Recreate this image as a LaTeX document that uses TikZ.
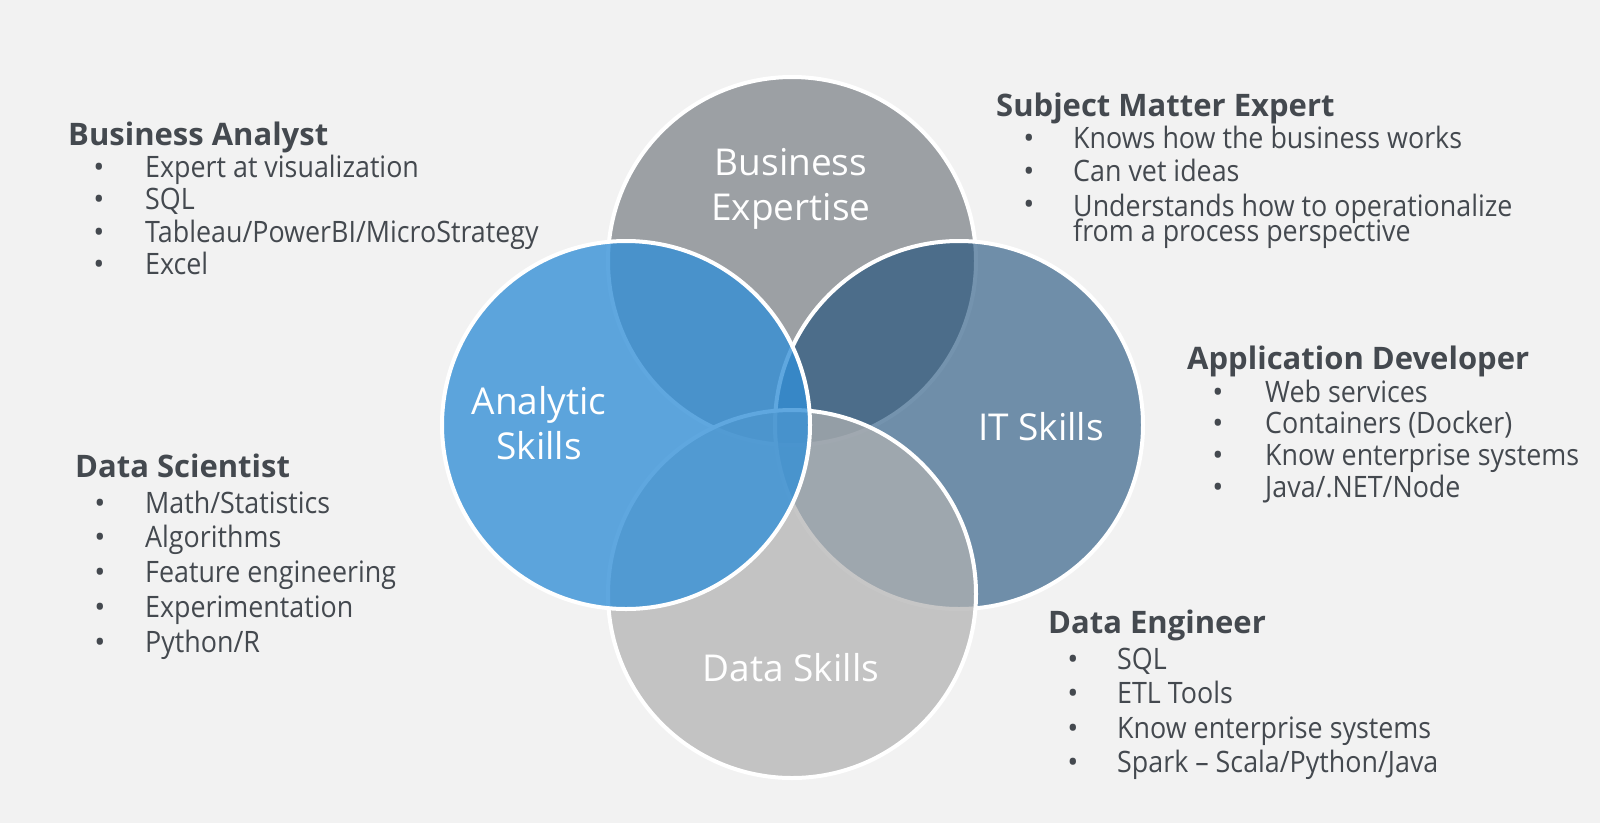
\documentclass[tikz,border=0pt]{standalone}
\usepackage{fontspec}
\setmainfont{Open Sans}
\newfontfamily\narrowfont{Open Sans}[FakeStretch=0.91]
\usepackage{tikz}
\usetikzlibrary{positioning}

\definecolor{bg}{HTML}{F2F2F2}
\definecolor{bizgray}{RGB}{156,160,164}
\definecolor{itblue}{RGB}{24,76,121}
\definecolor{datagray}{RGB}{177,177,177}
\definecolor{anablue}{RGB}{50,143,215}
\definecolor{txtgray}{HTML}{44494F}

\tikzset{
	venn/.style={draw=white, line width=4pt},
	circlab/.style={text=white, align=center, anchor=base, inner sep=0pt, font=\fontsize{37}{45}\selectfont},
	rolehead/.style={anchor=base west, inner sep=0pt, text=txtgray, font=\fontsize{31}{33}\selectfont\bfseries},
	roleitem/.style={anchor=base west, inner sep=0pt, text=txtgray, align=left, font=\narrowfont\fontsize{29.5}{30}\selectfont},
	bulletdot/.style={anchor=base, inner sep=0pt, text=txtgray, font=\fontsize{29.5}{30}\selectfont}
}

\begin{document}
\begin{tikzpicture}[x=1pt, y=-1pt]
	\fill[bg] (0,0) rectangle (1600,823);
	\useasboundingbox (0,0) rectangle (1600,823);
	% the four circles
	\filldraw[venn, fill=bizgray] (792,261) circle[radius=184pt];
	\filldraw[venn, fill=itblue, fill opacity=0.6] (959,425) circle[radius=184pt];
	\filldraw[venn, fill=datagray, fill opacity=0.72] (792,594) circle[radius=184pt];
	\filldraw[venn, fill=anablue, fill opacity=0.78] (626,425) circle[radius=184pt];
	% labels sit on the baseline of their last line
	\node[circlab] (bizlab) at (791,220) {Business\\Expertise};
	\node[circlab] (analab) at (539,459) {Analytic\\Skills};
	\node[circlab] (itlab) at (1041,440) {IT Skills};
	\node[circlab] (datlab) at (791,681) {Data Skills};
	% Business Analyst
	\node[rolehead] (ba) at (68,145) {Business Analyst};
	\foreach \t [count=\i] in {Expert at visualization, SQL, Tableau/PowerBI/MicroStrategy, Excel} {
		\node[bulletdot] (ba-dot\i) at (99,177+32.5*\i-32.5) {\textbullet};
		\node[roleitem] (ba-\i) at (145,177+32.5*\i-32.5) {\t};
	}
	% Subject Matter Expert
	\node[rolehead] (sme) at (996,116) {Subject Matter Expert};
	\foreach \t [count=\i] in {Knows how the business works, Can vet ideas} {
		\node[bulletdot] (sme-dot\i) at (1029,148+33.5*\i-33.5) {\textbullet};
		\node[roleitem] (sme-\i) at (1073,148+33.5*\i-33.5) {\t};
	}
	\node[bulletdot] (sme-dot3) at (1029,214.5) {\textbullet};
	\node[roleitem] (sme-3) at (1073,241) {Understands how to operationalize\\[-5pt]from a process perspective};
	% Application Developer
	\node[rolehead] (ad) at (1187,369) {Application Developer};
	\foreach \t [count=\i] in {Web services, Containers (Docker), Know enterprise systems, Java/.NET/Node} {
		\node[bulletdot] (ad-dot\i) at (1218,402+31.7*\i-31.7) {\textbullet};
		\node[roleitem] (ad-\i) at (1265,402+31.7*\i-31.7) {\t};
	}
	% Data Scientist
	\node[rolehead] (ds) at (75,477) {Data Scientist};
	\foreach \t [count=\i] in {Math/Statistics, Algorithms, Feature engineering, Experimentation, Python/R} {
		\node[bulletdot] (ds-dot\i) at (100,513+34.75*\i-34.75) {\textbullet};
		\node[roleitem] (ds-\i) at (145,513+34.75*\i-34.75) {\t};
	}
	% Data Engineer
	\node[rolehead] (de) at (1048,633) {Data Engineer};
	\foreach \t [count=\i] in {SQL, ETL Tools, Know enterprise systems, Spark – Scala/Python/Java} {
		\node[bulletdot] (de-dot\i) at (1073,669+34.5*\i-34.5) {\textbullet};
		\node[roleitem] (de-\i) at (1117,669+34.5*\i-34.5) {\t};
	}
\end{tikzpicture}
\end{document}
